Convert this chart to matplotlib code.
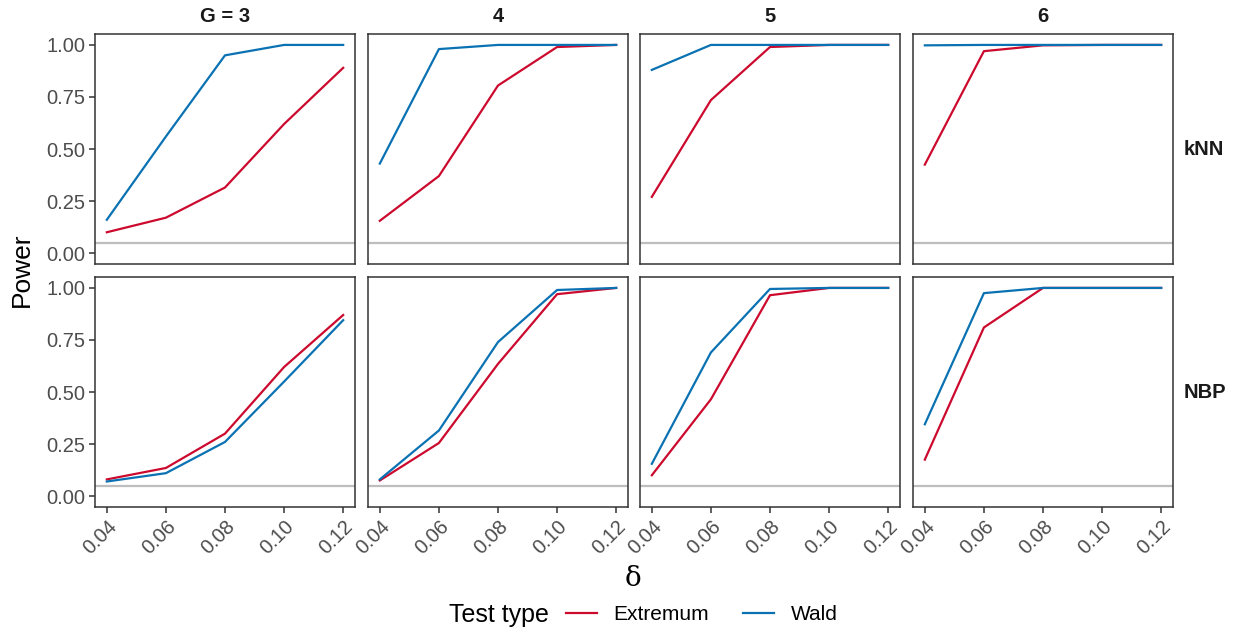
import matplotlib
matplotlib.use("Agg")
import matplotlib.pyplot as plt
from matplotlib.lines import Line2D

plt.rcParams['font.family'] = ['Liberation Sans', 'DejaVu Sans']

# data
delta = [0.04, 0.06, 0.08, 0.10, 0.12]
groups = ["3", "4", "5", "6"]
methods = ["kNN", "NBP"]

knn_extremum = [
    [0.10, 0.17, 0.315, 0.62, 0.89],
    [0.155, 0.37, 0.805, 0.99, 1.0],
    [0.27, 0.735, 0.99, 1.0, 1.0],
    [0.425, 0.97, 0.998, 1.0, 1.0],
]
knn_wald = [
    [0.16, 0.56, 0.95, 1.0, 1.0],
    [0.43, 0.98, 1.0, 1.0, 1.0],
    [0.88, 1.0, 1.0, 1.0, 1.0],
    [0.998, 1.0, 1.0, 1.0, 1.0],
]
nbp_extremum = [
    [0.08, 0.135, 0.30, 0.62, 0.87],
    [0.075, 0.255, 0.635, 0.97, 1.0],
    [0.10, 0.465, 0.965, 1.0, 1.0],
    [0.175, 0.81, 1.0, 1.0, 1.0],
]
nbp_wald = [
    [0.07, 0.11, 0.26, 0.55, 0.845],
    [0.08, 0.315, 0.74, 0.99, 1.0],
    [0.155, 0.69, 0.995, 1.0, 1.0],
    [0.345, 0.975, 1.0, 1.0, 1.0],
]
alpha_level = 0.05

RED = "#CC0A2E"
BLUE = "#0A72B3"
W, H = 1238, 634

fig = plt.figure(figsize=(W / 100, H / 100), dpi=100)

lefts = [95, 368, 640, 913]
tops = [34, 277]
pw, ph = 260, 230

series = {"kNN": (knn_extremum, knn_wald), "NBP": (nbp_extremum, nbp_wald)}

for r, m in enumerate(methods):
    ext, wald = series[m]
    for c, g in enumerate(groups):
        ax = fig.add_axes([lefts[c] / W, 1 - (tops[r] + ph) / H, pw / W, ph / H])
        ax.axhline(alpha_level, color="#BEBEBE", lw=1.6, zorder=1)
        ax.plot(delta, ext[c], color=RED, lw=1.6, zorder=3)
        ax.plot(delta, wald[c], color=BLUE, lw=1.6, zorder=3)
        ax.set_xlim(0.036, 0.124)
        ax.set_ylim(-0.0525, 1.0525)
        ax.set_xticks(delta)
        ax.set_yticks([0, 0.25, 0.5, 0.75, 1.0])
        for s in ax.spines.values():
            s.set_color("#333333")
            s.set_linewidth(1.1)
        ax.tick_params(colors="#333333", labelcolor="#4D4D4D", labelsize=14.5,
                       length=4, width=1.1, pad=3)
        if c == 0:
            ax.set_yticklabels(["0.00", "0.25", "0.50", "0.75", "1.00"])
        else:
            ax.set_yticklabels([])
            ax.tick_params(left=False)
        if r == 1:
            ax.set_xticklabels(["%.2f" % d for d in delta], rotation=45,
                               ha="right", va="top", rotation_mode="anchor")
        else:
            ax.set_xticklabels([])
            ax.tick_params(bottom=False)
        if r == 0:
            label = "G = 3" if c == 0 else g
            ax.set_title(label, fontsize=14.5, fontweight="bold", color="#1A1A1A", pad=9)
        if c == 3:
            ax.text(1.04, 0.5, m, transform=ax.transAxes, fontsize=14.5,
                    fontweight="bold", color="#1A1A1A", va="center", ha="left")

fig.text(22 / W, 1 - 270 / H, "Power", rotation=90, fontsize=19, va="center", ha="center")
fig.text(633 / W, 1 - 578 / H, "δ", fontsize=20, va="center", ha="center",
         family=["DejaVu Serif"])

handles = [Line2D([], [], color=RED, lw=1.6), Line2D([], [], color=BLUE, lw=1.6)]
leg = fig.legend(handles, ["Extremum", "Wald"], loc="center left", ncol=2,
                 bbox_to_anchor=(547 / W, 1 - 615 / H), frameon=False,
                 fontsize=15, handlelength=1.5, columnspacing=1.6, handletextpad=0.8)
fig.text(549 / W, 1 - 615 / H, "Test type", fontsize=18, va="center", ha="right")

fig.savefig("out.png", dpi=100)
